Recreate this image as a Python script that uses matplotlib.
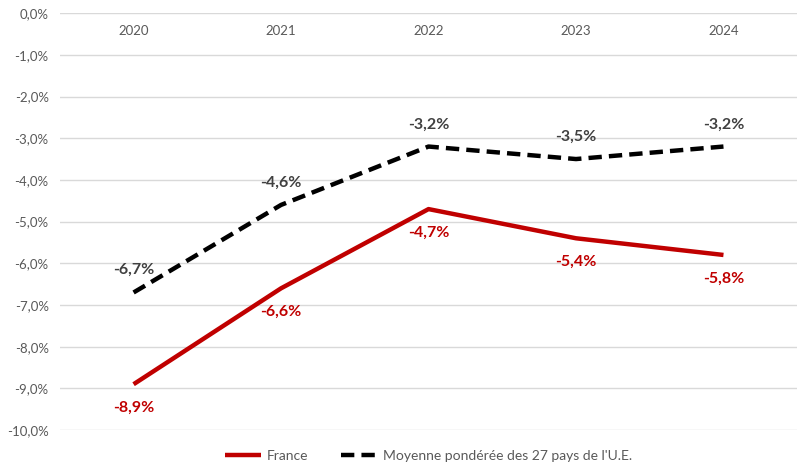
import matplotlib
matplotlib.use("Agg")
import matplotlib.pyplot as plt
from matplotlib.ticker import FuncFormatter

plt.rcParams['font.family'] = ['Lato', 'DejaVu Sans']

years = ['2020', '2021', '2022', '2023', '2024']
france = [-8.9, -6.6, -4.7, -5.4, -5.8]
ue27 = [-6.7, -4.6, -3.2, -3.5, -3.2]
yticks = [0, -1, -2, -3, -4, -5, -6, -7, -8, -9, -10]

red = '#C00000'
grey = '#595959'

fig = plt.figure(figsize=(7.98, 4.68), dpi=100)
ax = fig.add_axes([0.075, 0.081, 0.924, 0.891])

x = list(range(len(years)))
ax.plot(x, france, color=red, lw=3.2, solid_capstyle='butt', label='France', zorder=3)
ax.plot(x, ue27, color='black', lw=3.2, ls=(0, (3, 1.6)), dash_capstyle='butt',
        label="Moyenne pondérée des 27 pays de l'U.E.", zorder=3)

def pct(v):
    return f"{v:.1f}%".replace('.', ',')

for xi, v in zip(x, france):
    ax.annotate(pct(v), (xi, v), xytext=(0, -17), textcoords='offset points',
                ha='center', va='center', color=red, fontsize=11.5, fontweight='bold')
for xi, v in zip(x, ue27):
    ax.annotate(pct(v), (xi, v), xytext=(0, 16), textcoords='offset points',
                ha='center', va='center', color='#404040', fontsize=11.5, fontweight='bold')

# year labels sit just under the 0 % line
for xi, y in zip(x, years):
    ax.text(xi, -0.42, y, ha='center', va='center', color=grey, fontsize=9.5)

ax.set_xlim(-0.5, len(years) - 0.5)
ax.set_ylim(-10, 0)
ax.set_yticks(yticks)
ax.yaxis.set_major_formatter(FuncFormatter(lambda v, p: pct(v)))
ax.tick_params(axis='y', length=0, colors=grey, labelsize=9.5, pad=8)
ax.set_xticks([])
ax.grid(axis='y', color='#d9d9d9', lw=1)
for s in ax.spines.values():
    s.set_visible(False)
ax.set_axisbelow(True)

leg = ax.legend(loc='upper center', bbox_to_anchor=(0.5, -0.018), ncol=2, frameon=False,
                fontsize=10, handlelength=2.6, columnspacing=2.4, handletextpad=0.4)
for t in leg.get_texts():
    t.set_color(grey)

fig.savefig('out.png', dpi=100)
